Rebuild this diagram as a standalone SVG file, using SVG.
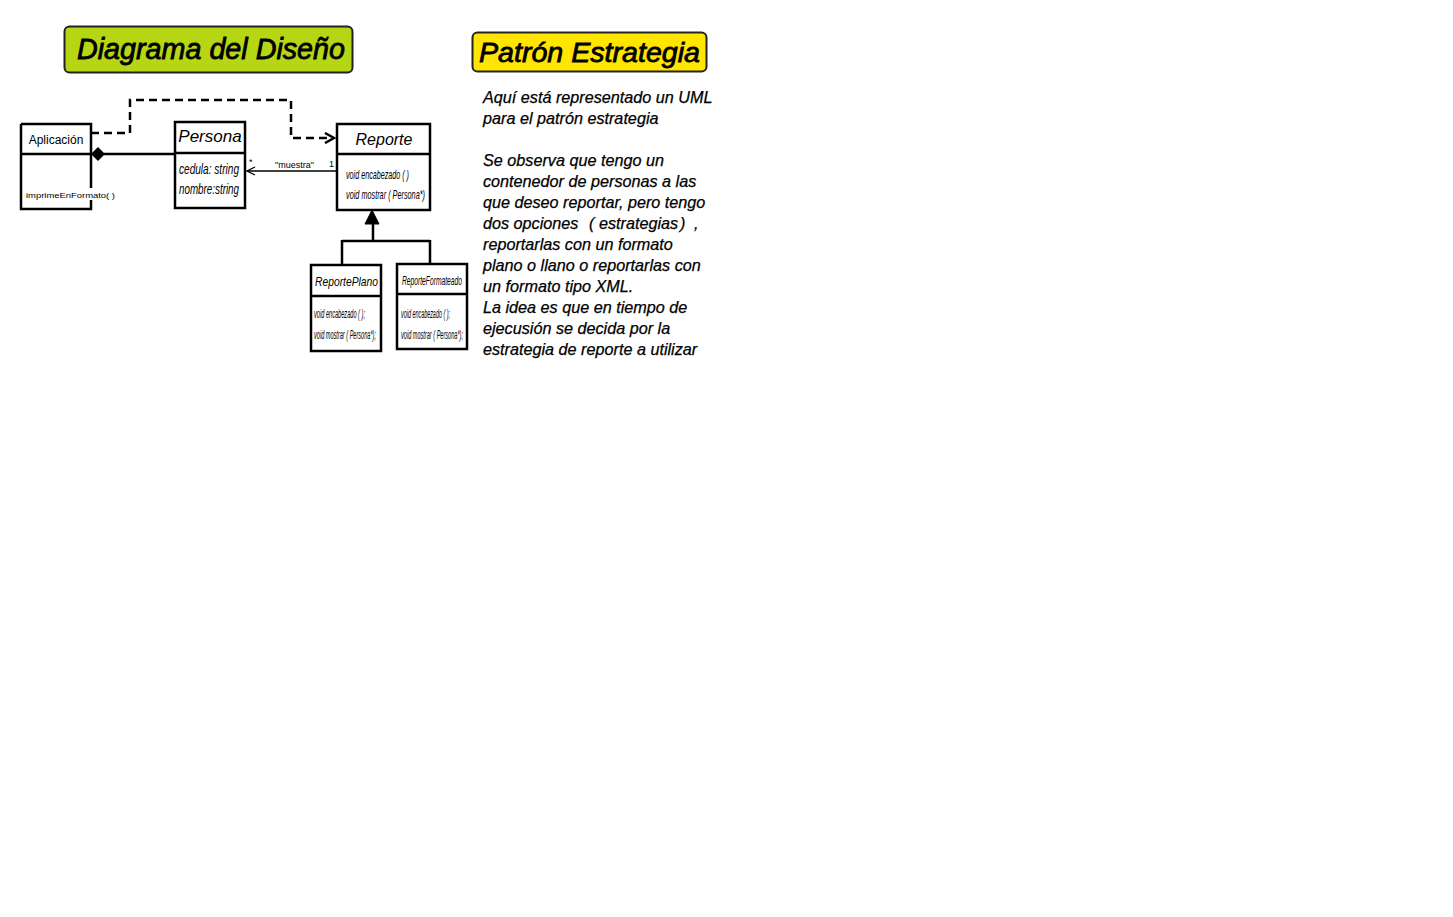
<svg xmlns="http://www.w3.org/2000/svg" width="1453" height="917" viewBox="0 0 1453 917">
<style>
.box{fill:#fff;stroke:#000;stroke-width:2.5}
.ln{fill:none;stroke:#000;stroke-width:2.5}
.t{font-family:"Liberation Sans",Arial,sans-serif;fill:#000}
.i{font-style:italic}
.p{font-family:"Liberation Sans",Arial,sans-serif;font-style:italic;font-size:16.2px;fill:#000;stroke:#000;stroke-width:0.25}
.h{stroke:#000;stroke-width:0.8}
</style>
<defs>
<marker id="open" markerWidth="12" markerHeight="12" refX="10" refY="6" orient="auto" markerUnits="userSpaceOnUse">
<path d="M1,1 L10,6 L1,11" fill="none" stroke="#000" stroke-width="2.5"/>
</marker>
<marker id="thin" markerWidth="10" markerHeight="10" refX="9" refY="5" orient="auto" markerUnits="userSpaceOnUse">
<path d="M1,1 L9,5 L1,9" fill="none" stroke="#000" stroke-width="1.3"/>
</marker>
</defs>
<rect width="1453" height="917" fill="#fff"/>
<g id="title1">
<rect x="64.5" y="26.5" width="288" height="46" rx="5" fill="#b6d513" stroke="#222" stroke-width="2"/>
<text class="t i h" x="77" y="59" font-size="29" textLength="268" lengthAdjust="spacingAndGlyphs">Diagrama del Diseño</text>
</g>
<g id="title2">
<rect x="472.5" y="32.5" width="234" height="39" rx="5" fill="#ffe500" stroke="#222" stroke-width="2"/>
<text class="t i h" x="479" y="62" font-size="28" textLength="221" lengthAdjust="spacingAndGlyphs">Patrón Estrategia</text>
</g>
<g id="connectors">
<path class="ln" d="M91,133 H130 V100 H291 V138 H334" stroke-dasharray="8,5" marker-end="url(#open)"/>
<line class="ln" x1="104" y1="154" x2="175" y2="154"/>
<path d="M91,154 L98,147 L105,154 L98,161 Z" fill="#000"/>
<line x1="337" y1="171" x2="247" y2="171" stroke="#000" stroke-width="1.3" marker-end="url(#thin)"/>
<text class="t" x="249" y="165" font-size="9">*</text>
<text class="t" x="275" y="168" font-size="9" fill="#333">"muestra"</text>
<text class="t" x="329" y="167" font-size="9">1</text>
<path d="M372,210 L379,224 L365,224 Z" fill="#000" stroke="#000" stroke-width="1"/>
<path class="ln" d="M373,224 V241 M342,241 H430 M342,240 V265 M430,240 V264"/>
</g>
<g id="aplicacion">
<rect x="21" y="124" width="70" height="85" fill="#fff" stroke="none"/>
<path class="ln" d="M21,124 H91 V188 M91,200 V209 H21 V124 M21,154 H91"/>
<text class="t" x="56" y="144" font-size="12" text-anchor="middle">Aplicación</text>
<text class="t" x="26" y="198" font-size="8" fill="#333" textLength="89" lengthAdjust="spacingAndGlyphs">imprimeEnFormato( )</text>
</g>
<g id="persona">
<rect class="box" x="175" y="122" width="70" height="86"/>
<line class="ln" x1="175" y1="153" x2="245" y2="153"/>
<text class="t i" x="210" y="142" font-size="17" text-anchor="middle">Persona</text>
<text class="t i" x="179" y="174" font-size="14" textLength="60" lengthAdjust="spacingAndGlyphs">cedula: string</text>
<text class="t i" x="179" y="194" font-size="14" textLength="60" lengthAdjust="spacingAndGlyphs">nombre:string</text>
</g>
<g id="reporte">
<rect class="box" x="337" y="124" width="93" height="86"/>
<line class="ln" x1="337" y1="154" x2="430" y2="154"/>
<text class="t i" x="384" y="145" font-size="16" text-anchor="middle">Reporte</text>
<text class="t i" x="346" y="179" font-size="13" textLength="63" lengthAdjust="spacingAndGlyphs">void encabezado ( )</text>
<text class="t i" x="346" y="199" font-size="13" textLength="79" lengthAdjust="spacingAndGlyphs">void mostrar ( Persona*)</text>
</g>
<g id="reporteplano">
<rect class="box" x="311" y="265" width="70" height="86"/>
<line class="ln" x1="311" y1="296" x2="381" y2="296"/>
<text class="t i" x="315" y="286" font-size="13" textLength="63" lengthAdjust="spacingAndGlyphs">ReportePlano</text>
<text class="t i" x="314" y="318" font-size="12" textLength="51" lengthAdjust="spacingAndGlyphs">void encabezado ( );</text>
<text class="t i" x="314" y="339" font-size="12" textLength="62" lengthAdjust="spacingAndGlyphs">void mostrar ( Persona*);</text>
</g>
<g id="reporteformateado">
<rect class="box" x="397" y="264" width="70" height="85"/>
<line class="ln" x1="397" y1="294" x2="467" y2="294"/>
<text class="t i" x="402" y="285" font-size="13" textLength="60" lengthAdjust="spacingAndGlyphs">ReporteFormateado</text>
<text class="t i" x="401" y="318" font-size="12" textLength="49" lengthAdjust="spacingAndGlyphs">void encabezado ( );</text>
<text class="t i" x="401" y="339" font-size="12" textLength="62" lengthAdjust="spacingAndGlyphs">void mostrar ( Persona*);</text>
</g>
<g id="descripcion">
<text class="p" x="483" y="103">Aquí está representado un UML</text>
<text class="p" x="483" y="124">para el patrón estrategia</text>
<text class="p" x="483" y="166">Se observa que tengo un</text>
<text class="p" x="483" y="187">contenedor de personas a las</text>
<text class="p" x="483" y="208">que deseo reportar, pero tengo</text>
<text class="p" x="483" y="229">dos opciones<tspan x="589">(</tspan><tspan x="599">estrategias</tspan><tspan x="680">)</tspan><tspan x="694">,</tspan></text>
<text class="p" x="483" y="250">reportarlas con un formato</text>
<text class="p" x="483" y="271">plano o llano o reportarlas con</text>
<text class="p" x="483" y="292">un formato tipo XML.</text>
<text class="p" x="483" y="313">La idea es que en tiempo de</text>
<text class="p" x="483" y="334">ejecusión se decida por la</text>
<text class="p" x="483" y="355">estrategia de reporte a utilizar</text>
</g>
</svg>
